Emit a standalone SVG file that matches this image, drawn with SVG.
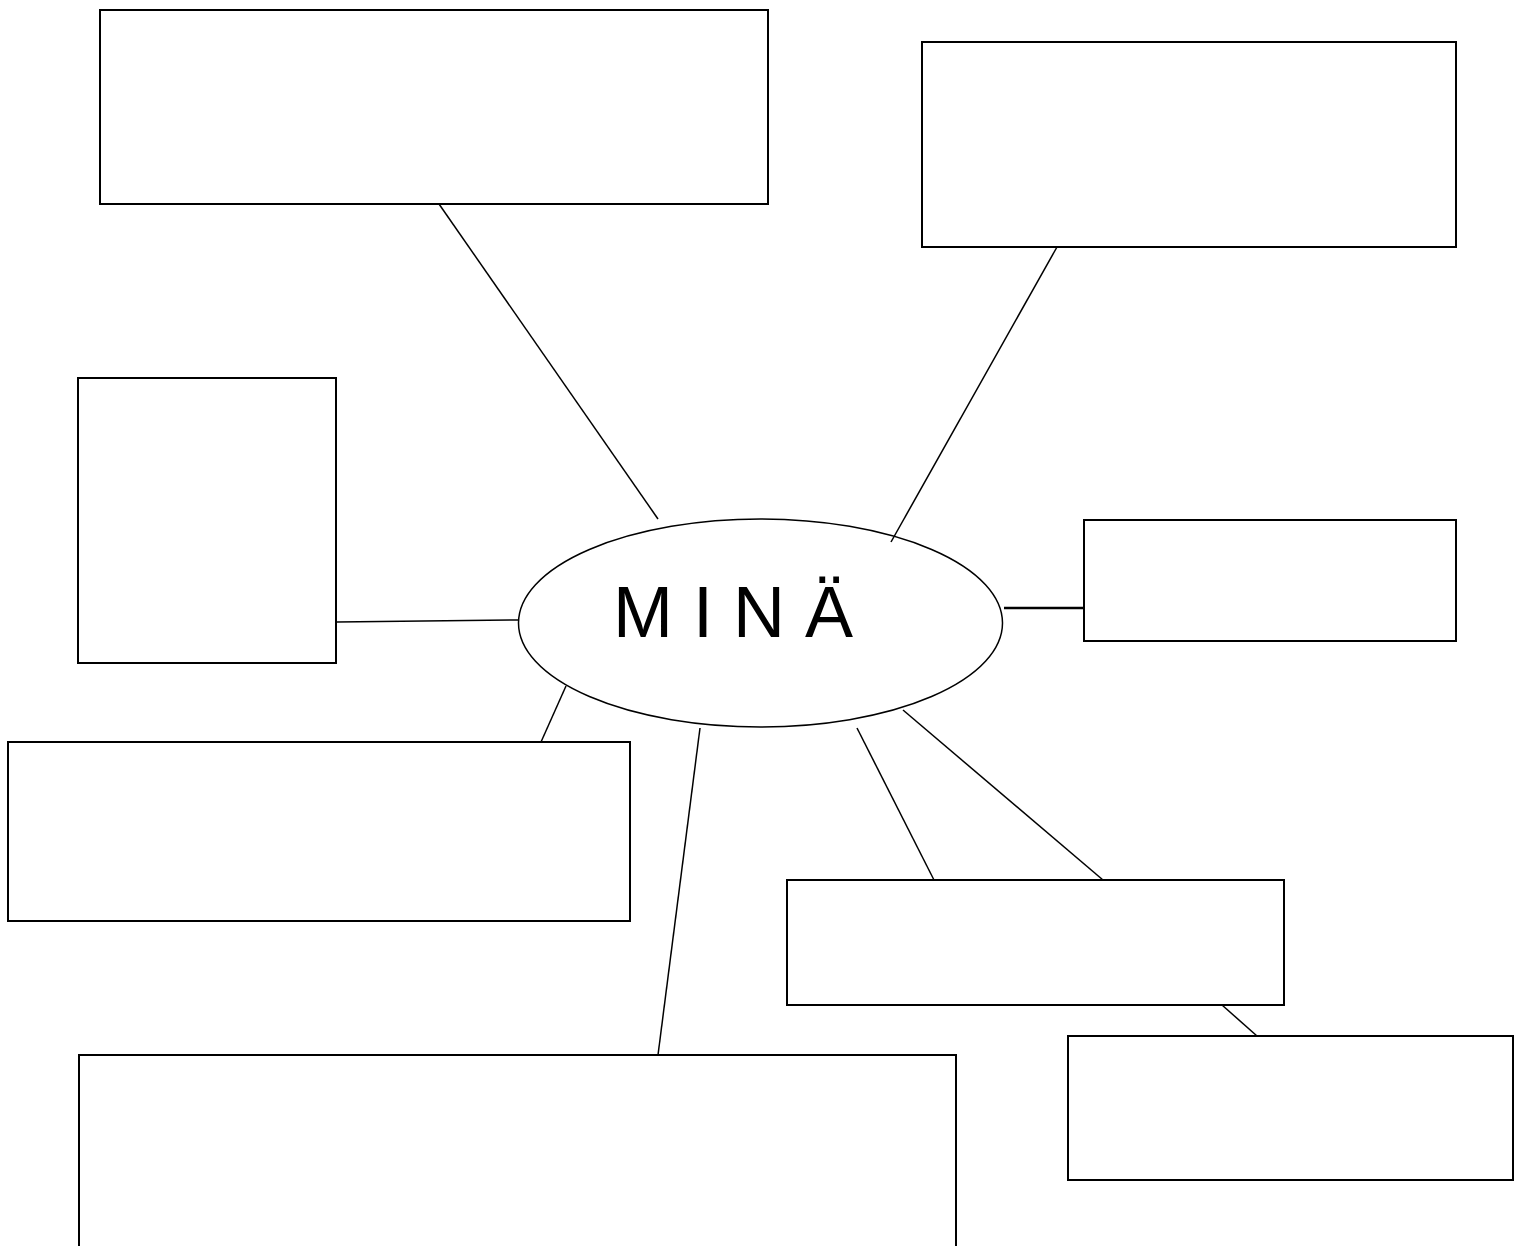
<svg xmlns="http://www.w3.org/2000/svg" width="1514" height="1246" viewBox="0 0 1514 1246">
<style>
.box{fill:#fff;stroke:#000;stroke-width:2}
.ln{stroke:#000;stroke-width:1.5;fill:none}
.lbl{font-family:"Liberation Sans",Arial,sans-serif;font-size:72px;letter-spacing:20px}
</style>
<rect width="1514" height="1246" fill="#fff"/>
<g id="n1"><rect class="box" x="100" y="10" width="668" height="194"/></g>
<g id="n2"><rect class="box" x="922" y="42" width="534" height="205"/></g>
<g id="n3"><rect class="box" x="78" y="378" width="258" height="285"/></g>
<g id="n4"><rect class="box" x="1084" y="520" width="372" height="121"/></g>
<g id="n5"><rect class="box" x="8" y="742" width="622" height="179"/></g>
<g id="n6"><rect class="box" x="787" y="880" width="497" height="125"/></g>
<g id="n7"><rect class="box" x="1068" y="1036" width="445" height="144"/></g>
<g id="n8"><rect class="box" x="79" y="1055" width="877" height="200"/></g>
<g id="center">
<ellipse cx="760.5" cy="623" rx="242" ry="104" fill="#fff" stroke="#000" stroke-width="1.5"/>
<text class="lbl" x="613" y="637">MINÄ</text>
</g>
<g id="connectors">
<line class="ln" x1="439" y1="204" x2="658" y2="519"/>
<line class="ln" x1="1057" y1="247" x2="891" y2="542"/>
<line class="ln" x1="337" y1="622" x2="518" y2="620"/>
<line class="ln" x1="1004" y1="608" x2="1084" y2="608" style="stroke-width:2.5"/>
<line class="ln" x1="566" y1="686" x2="541" y2="742"/>
<line class="ln" x1="700" y1="728" x2="658" y2="1055"/>
<line class="ln" x1="857" y1="728" x2="934" y2="880"/>
<line class="ln" x1="903" y1="710" x2="1103" y2="880"/>
<line class="ln" x1="1222" y1="1005" x2="1257" y2="1036"/>
</g>
</svg>
